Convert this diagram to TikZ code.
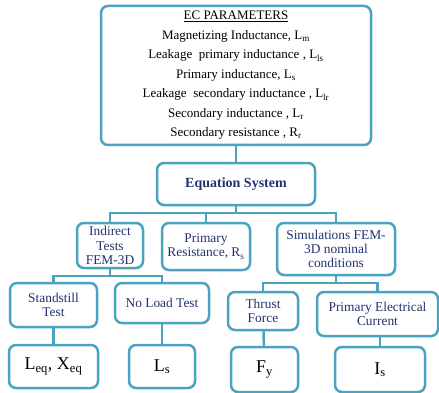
\documentclass[tikz,border=0pt]{standalone}
\usepackage{fontspec}
\setmainfont{Liberation Serif}
\usepackage{tikz}
\definecolor{boxline}{RGB}{74,163,191}
\definecolor{boxtext}{RGB}{35,50,110}

\begin{document}
\begin{tikzpicture}[x=1pt, y=-1pt,
                    box/.style={draw=boxline, line width=2.5pt, rounded corners=7pt,
                                fill=white, align=center, inner sep=0pt, text=boxtext,
                                font=\fontsize{13.4}{14.2}\selectfont},
                    result/.style={box, text=black, font=\fontsize{18}{20}\selectfont},
                    link/.style={draw=boxline, line width=2.5pt}]
  \useasboundingbox (0,0) rectangle (439,393);
  % top and middle
  \node[box, text=black, font=\fontsize{13}{19.5}\selectfont,
        minimum width=270pt, minimum height=139pt] (ecpar) at (236,75.5)
    {\underline{EC PARAMETERS}\\
     Magnetizing Inductance, L\textsubscript{m}\\
     Leakage\ \ primary inductance , L\textsubscript{ls}\\
     Primary inductance, L\textsubscript{s}\\
     Leakage\ \ secondary inductance , L\textsubscript{lr}\\
     Secondary inductance , L\textsubscript{r}\\
     Secondary resistance , R\textsubscript{r}};
  \node[box, font=\fontsize{14}{16}\selectfont\bfseries,
        minimum width=158pt, minimum height=42pt] (eqsys) at (236,184) {Equation System};
  % level 2
  \node[box, minimum width=66pt, minimum height=45pt] (indirect) at (110,245.5)
    {Indirect\\Tests\\FEM-3D};
  \node[box, minimum width=88pt, minimum height=47pt] (primres) at (206,246.5)
    {Primary\\Resistance, R\textsubscript{s}};
  \node[box, minimum width=118pt, minimum height=52pt] (simfem) at (336,249)
    {Simulations FEM-\\3D nominal\\conditions};
  % level 3
  \node[box, minimum width=87pt, minimum height=44pt] (standstill) at (53.5,305)
    {Standstill\\Test};
  \node[box, minimum width=94pt, minimum height=40pt] (noload) at (162,303)
    {No Load Test};
  \node[box, minimum width=70pt, minimum height=38pt] (thrust) at (263,311)
    {Thrust\\Force};
  \node[box, minimum width=121pt, minimum height=44pt] (primcur) at (377.5,314)
    {Primary Electrical\\Current};
  % results
  \node[result, minimum width=89pt, minimum height=43pt] (leqxeq) at (53.5,366.5)
    {L\textsubscript{eq}, X\textsubscript{eq}};
  \node[result, minimum width=66pt, minimum height=43pt] (lsres) at (162,366.5)
    {L\textsubscript{s}};
  \node[result, minimum width=67pt, minimum height=45pt] (fyres) at (264.5,369.5)
    {F\textsubscript{y}};
  \node[result, minimum width=90pt, minimum height=45pt] (isres) at (380,369.5)
    {I\textsubscript{s}};
  % connectors
  \coordinate (forkeq) at (236,213);
  \coordinate (forkind) at (110,276);
  \coordinate (forksim) at (336,283);
  \draw[link] (ecpar) -- (eqsys);
  \draw[link] (eqsys) -- (forkeq);
  \draw[link] (forkeq) -| (indirect);
  \draw[link] (forkeq) -| (primres);
  \draw[link] (forkeq) -| (simfem);
  \draw[link] (indirect) -- (forkind);
  \draw[link] (forkind) -| (standstill);
  \draw[link] (forkind) -| (noload);
  \draw[link] (simfem) -- (forksim);
  \draw[link] (forksim) -| (thrust);
  \draw[link] (forksim) -| (primcur);
  \draw[link] (standstill) -- (leqxeq);
  \draw[link] (noload) -- (lsres);
  \draw[link] (thrust) -- (fyres);
  \draw[link] (isres) -- (isres |- primcur.south);
\end{tikzpicture}
\end{document}
